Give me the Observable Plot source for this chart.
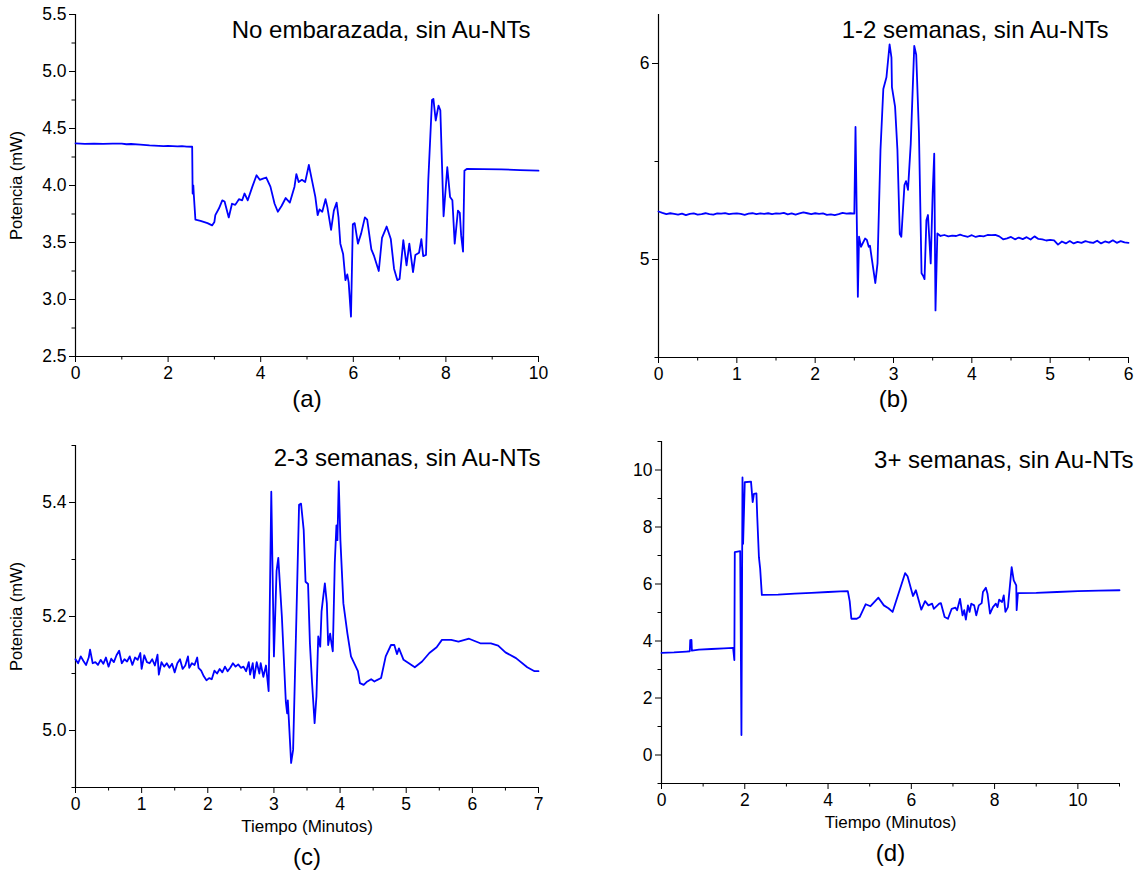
<!DOCTYPE html>
<html><head><meta charset="utf-8">
<script src="https://cdn.jsdelivr.net/npm/d3@7"></script>
<script src="https://cdn.jsdelivr.net/npm/@observablehq/plot@0.6"></script>
<style>
body{margin:0;background:#fff;}
#wrap{position:relative;width:1138px;height:872px;}
#wrap svg{position:absolute;}
</style></head><body><div id="wrap"></div>
<script>
// ---------- data: [tiempo (min), potencia (mW)] ----------
const serieA = [[0,4.37],[0.2,4.365],[0.4,4.368],[0.6,4.366],[0.8,4.368],[1.0,4.367],[1.1,4.362],[1.2,4.364],[1.4,4.358],[1.6,4.352],[1.8,4.348],[1.9,4.345],[2.0,4.347],[2.2,4.343],[2.3,4.345],[2.4,4.341],[2.52,4.34],[2.53,3.93],[2.545,4.0],[2.555,3.92],[2.59,3.70],[2.7,3.69],[2.85,3.67],[2.95,3.65],[3.0,3.68],[3.02,3.74],[3.1,3.80],[3.17,3.87],[3.22,3.86],[3.31,3.72],[3.38,3.84],[3.45,3.83],[3.53,3.88],[3.6,3.87],[3.65,3.93],[3.72,3.87],[3.82,3.99],[3.91,4.09],[3.98,4.05],[4.05,4.06],[4.12,4.07],[4.21,3.99],[4.3,3.84],[4.37,3.77],[4.45,3.82],[4.54,3.89],[4.63,3.85],[4.73,3.99],[4.77,4.10],[4.82,4.03],[4.89,4.05],[4.96,4.03],[5.04,4.18],[5.11,4.04],[5.18,3.90],[5.23,3.74],[5.27,3.79],[5.33,3.77],[5.4,3.88],[5.44,3.81],[5.52,3.61],[5.58,3.78],[5.64,3.85],[5.68,3.72],[5.72,3.49],[5.78,3.40],[5.83,3.17],[5.87,3.22],[5.90,3.15],[5.95,2.85],[5.99,3.66],[6.03,3.67],[6.1,3.49],[6.17,3.58],[6.25,3.72],[6.30,3.70],[6.39,3.44],[6.45,3.38],[6.55,3.25],[6.62,3.54],[6.72,3.64],[6.81,3.53],[6.88,3.27],[6.95,3.17],[7.0,3.18],[7.08,3.52],[7.15,3.30],[7.21,3.49],[7.29,3.24],[7.34,3.39],[7.42,3.41],[7.47,3.53],[7.51,3.38],[7.57,3.39],[7.62,4.05],[7.70,4.75],[7.73,4.76],[7.78,4.57],[7.84,4.70],[7.88,4.66],[7.95,3.73],[8.03,4.16],[8.09,3.90],[8.14,3.87],[8.19,3.49],[8.26,3.78],[8.30,3.76],[8.33,3.56],[8.37,3.42],[8.40,4.13],[8.45,4.145],[8.8,4.143],[9.2,4.142],[9.6,4.135],[10.0,4.13]];

const serieB = [[0,5.245],[0.05,5.238],[0.1,5.232],[0.15,5.236],[0.2,5.233],[0.25,5.229],[0.3,5.234],[0.35,5.226],[0.4,5.233],[0.45,5.235],[0.5,5.229],[0.55,5.232],[0.6,5.236],[0.65,5.231],[0.7,5.229],[0.75,5.235],[0.8,5.234],[0.85,5.237],[0.9,5.231],[0.95,5.234],[1.0,5.235],[1.05,5.233],[1.1,5.228],[1.15,5.234],[1.2,5.236],[1.25,5.231],[1.3,5.235],[1.35,5.233],[1.4,5.236],[1.45,5.232],[1.5,5.235],[1.55,5.234],[1.6,5.238],[1.65,5.230],[1.7,5.235],[1.75,5.229],[1.8,5.235],[1.85,5.240],[1.9,5.236],[1.95,5.232],[2.0,5.236],[2.05,5.233],[2.1,5.235],[2.15,5.228],[2.2,5.230],[2.25,5.226],[2.3,5.231],[2.35,5.238],[2.4,5.234],[2.45,5.236],[2.50,5.234],[2.515,5.676],[2.545,4.81],[2.56,5.116],[2.585,5.065],[2.637,5.107],[2.66,5.10],[2.684,5.065],[2.70,5.07],[2.71,5.04],[2.768,4.88],[2.796,4.98],[2.834,5.56],[2.87,5.87],[2.91,5.93],[2.95,6.097],[2.974,6.03],[2.98,5.88],[3.02,5.78],[3.05,5.56],[3.08,5.13],[3.10,5.116],[3.14,5.38],[3.16,5.40],[3.185,5.355],[3.22,5.59],[3.265,6.09],[3.29,6.045],[3.325,5.645],[3.358,4.93],[3.38,4.915],[3.396,4.90],[3.42,5.20],[3.44,5.227],[3.475,4.98],[3.50,5.338],[3.52,5.54],[3.536,4.74],[3.56,5.133],[3.6,5.12],[3.65,5.125],[3.7,5.118],[3.75,5.122],[3.8,5.12],[3.85,5.127],[3.9,5.12],[3.95,5.116],[4.0,5.124],[4.05,5.115],[4.1,5.121],[4.15,5.118],[4.2,5.125],[4.25,5.124],[4.3,5.126],[4.35,5.118],[4.4,5.103],[4.45,5.108],[4.5,5.115],[4.55,5.103],[4.6,5.112],[4.65,5.104],[4.7,5.114],[4.75,5.102],[4.8,5.118],[4.85,5.105],[4.9,5.103],[4.95,5.097],[5.0,5.10],[5.05,5.098],[5.1,5.076],[5.15,5.092],[5.2,5.082],[5.25,5.094],[5.3,5.082],[5.35,5.09],[5.4,5.085],[5.45,5.094],[5.5,5.088],[5.55,5.085],[5.6,5.096],[5.65,5.082],[5.7,5.092],[5.75,5.086],[5.8,5.098],[5.85,5.085],[5.9,5.094],[5.95,5.087],[6.0,5.085]];

const serieC = [[0.00,5.125],[0.04,5.118],[0.08,5.130],[0.12,5.122],[0.16,5.115],[0.20,5.128],[0.22,5.142],[0.26,5.118],[0.30,5.120],[0.34,5.115],[0.38,5.124],[0.42,5.117],[0.46,5.128],[0.50,5.112],[0.54,5.126],[0.58,5.120],[0.62,5.132],[0.66,5.140],[0.70,5.118],[0.74,5.125],[0.78,5.121],[0.82,5.130],[0.86,5.115],[0.90,5.128],[0.94,5.124],[0.98,5.136],[1.00,5.108],[1.04,5.132],[1.08,5.120],[1.12,5.118],[1.16,5.125],[1.20,5.114],[1.24,5.133],[1.26,5.098],[1.30,5.120],[1.34,5.112],[1.38,5.118],[1.42,5.110],[1.46,5.117],[1.50,5.102],[1.54,5.118],[1.58,5.125],[1.62,5.108],[1.66,5.114],[1.70,5.130],[1.72,5.110],[1.76,5.118],[1.80,5.115],[1.84,5.128],[1.86,5.110],[1.90,5.105],[1.94,5.095],[1.98,5.088],[2.02,5.092],[2.06,5.090],[2.10,5.105],[2.14,5.100],[2.18,5.108],[2.22,5.102],[2.26,5.112],[2.30,5.104],[2.34,5.110],[2.38,5.118],[2.42,5.112],[2.46,5.116],[2.50,5.110],[2.54,5.112],[2.58,5.104],[2.62,5.120],[2.64,5.098],[2.68,5.118],[2.70,5.092],[2.74,5.120],[2.78,5.100],[2.80,5.118],[2.84,5.094],[2.88,5.114],[2.92,5.069],[2.96,5.419],[3.0,5.13],[3.04,5.28],[3.066,5.303],[3.12,5.2],[3.18,5.05],[3.20,5.03],[3.21,5.053],[3.26,4.943],[3.29,4.966],[3.34,5.2],[3.38,5.396],[3.41,5.398],[3.45,5.352],[3.478,5.261],[3.516,5.257],[3.544,5.153],[3.577,5.083],[3.615,5.013],[3.643,5.06],[3.67,5.165],[3.70,5.147],[3.72,5.209],[3.74,5.229],[3.77,5.258],[3.80,5.223],[3.82,5.15],[3.85,5.17],[3.87,5.153],[3.89,5.139],[3.92,5.294],[3.945,5.36],[3.96,5.334],[3.98,5.437],[4.005,5.334],[4.05,5.223],[4.11,5.171],[4.165,5.13],[4.27,5.104],[4.30,5.083],[4.357,5.08],[4.40,5.085],[4.47,5.09],[4.52,5.086],[4.55,5.088],[4.62,5.092],[4.69,5.13],[4.77,5.15],[4.82,5.15],[4.86,5.134],[4.89,5.144],[4.96,5.124],[5.04,5.118],[5.13,5.111],[5.24,5.121],[5.35,5.136],[5.46,5.146],[5.54,5.159],[5.68,5.159],[5.79,5.156],[5.95,5.161],[6.12,5.153],[6.28,5.153],[6.39,5.149],[6.50,5.137],[6.66,5.127],[6.83,5.111],[6.94,5.104],[7.0,5.104]];

const serieD = [[0,3.58],[0.3,3.6],[0.6,3.63],[0.68,3.64],[0.69,4.03],[0.72,4.04],[0.73,3.66],[0.9,3.7],[1.2,3.72],[1.5,3.74],[1.72,3.76],[1.75,3.33],[1.76,7.12],[1.89,7.15],[1.92,0.7],[1.945,9.74],[1.96,7.41],[2.0,9.57],[2.15,9.59],[2.19,8.87],[2.22,9.16],[2.28,9.18],[2.30,8.34],[2.34,6.94],[2.37,6.53],[2.41,5.62],[2.8,5.63],[3.2,5.66],[3.6,5.69],[4.0,5.72],[4.3,5.74],[4.475,5.75],[4.52,5.4],[4.56,4.78],[4.69,4.78],[4.76,4.84],[4.905,5.29],[5.02,5.22],[5.21,5.52],[5.34,5.25],[5.45,5.15],[5.55,5.02],[5.85,6.38],[5.91,6.27],[6.04,5.58],[6.11,5.78],[6.24,5.1],[6.33,5.4],[6.41,5.25],[6.5,5.31],[6.54,5.13],[6.67,5.31],[6.71,5.33],[6.80,4.84],[6.88,4.78],[6.97,5.13],[7.06,5.17],[7.10,5.08],[7.17,5.48],[7.23,4.9],[7.27,5.08],[7.31,4.75],[7.36,5.25],[7.40,5.02],[7.44,5.31],[7.51,5.25],[7.56,4.9],[7.62,5.25],[7.69,5.33],[7.72,5.72],[7.79,5.87],[7.83,5.66],[7.89,4.96],[7.96,5.19],[8.03,5.31],[8.07,5.19],[8.11,5.45],[8.18,5.37],[8.22,5.6],[8.26,5.02],[8.32,5.19],[8.41,6.59],[8.46,6.13],[8.52,5.95],[8.53,5.08],[8.56,5.68],[9.0,5.69],[9.5,5.72],[10.0,5.75],[10.5,5.77],[11.0,5.78]];

// ---------- ticks & labels ----------
const xTicksA = [0,2,4,6,8,10], xMinorA = [1,3,5,7,9];
const yTicksA = [2.5,3.0,3.5,4.0,4.5,5.0,5.5], yMinorA = [2.75,3.25,3.75,4.25,4.75,5.25];
const xTicksB = [0,1,2,3,4,5,6], xMinorB = [0.5,1.5,2.5,3.5,4.5,5.5];
const yTicksB = [5,6], yMinorB = [4.5,5.5];
const xTicksC = [0,1,2,3,4,5,6,7], xMinorC = [0.5,1.5,2.5,3.5,4.5,5.5,6.5];
const yTicksC = [5.0,5.2,5.4], yMinorC = [4.9,5.1,5.3,5.5];
const xTicksD = [0,2,4,6,8,10], xMinorD = [1,3,5,7,9,11];
const yTicksD = [0,2,4,6,8,10], yMinorD = [-1,1,3,5,7,9,11];
const titles = ["No embarazada, sin Au-NTs","1-2 semanas, sin Au-NTs","2-3 semanas, sin Au-NTs","3+ semanas, sin Au-NTs"];
const letters = ["(a)","(b)","(c)","(d)"];
const yLabel = "Potencia (mW)", xLabel = "Tiempo (Minutos)";

const FONT = "'Liberation Sans', Arial, Helvetica, sans-serif";

function panel(c){
  const marks = [
    Plot.axisX({ticks:c.xMinor, tickSize:3.5, tickFormat:()=>"", label:null}),
    Plot.axisY({ticks:c.yMinor, tickSize:3.5, tickFormat:()=>"", label:null}),
    Plot.axisX({ticks:c.xTicks, tickSize:6, tickPadding:4, tickFormat:c.xFmt, label:null, fontSize:17.5}),
    Plot.axisY({ticks:c.yTicks, tickSize:6, tickPadding:3, tickFormat:c.yFmt, label:null, fontSize:17.5}),
    Plot.ruleY([c.yd[0]], {stroke:"#000", strokeWidth:1.2}),
    Plot.ruleX([c.xd[0]], {stroke:"#000", strokeWidth:1.2}),
    Plot.line(c.data, {x:d=>d[0], y:d=>d[1], stroke:"#0000ff", strokeWidth:1.8}),
    Plot.text([c.title], {text:d=>d, frameAnchor:"top-right", dx:c.tdx, dy:c.tdy, lineAnchor:"middle", textAnchor:"end", fontSize:24, fill:"#000"}),
    Plot.text([c.letter], {text:d=>d, frameAnchor:"bottom", dy:c.ldy, lineAnchor:"middle", textAnchor:"middle", fontSize:24, fill:"#000"})
  ];
  if (c.showX) marks.push(Plot.text([xLabel], {text:d=>d, frameAnchor:"bottom", dy:39, lineAnchor:"middle", textAnchor:"middle", fontSize:17, fill:"#000"}));
  if (c.showY) marks.push(Plot.text([yLabel], {text:d=>d, frameAnchor:"left", dx:-59, rotate:-90, lineAnchor:"middle", textAnchor:"middle", fontSize:16.5, fill:"#000"}));
  const svg = Plot.plot({
    width:c.w, height:c.h,
    marginLeft:c.m[0], marginRight:c.m[1], marginTop:c.m[2], marginBottom:c.m[3],
    style:{fontFamily:FONT, fontSize:"17px", color:"#000", background:"transparent", overflow:"visible"},
    x:{domain:c.xd},
    y:{domain:c.yd},
    marks
  });
  svg.style.left = c.left + "px";
  svg.style.top = c.top + "px";
  document.getElementById("wrap").appendChild(svg);
}

const f1 = d3.format(".1f"), f0 = d3.format("d");
panel({data:serieA, left:0, top:0, w:570, h:430, m:[75,32,14,74], xd:[0,10], yd:[2.5,5.5],
  xTicks:xTicksA, xMinor:xMinorA, yTicks:yTicksA, yMinor:yMinorA, xFmt:f0, yFmt:f1,
  title:titles[0], tdx:-8, tdy:16, letter:letters[0], ldy:43, showX:false, showY:true});
panel({data:serieB, left:570, top:0, w:568, h:430, m:[88,10,14,73], xd:[0,6], yd:[4.5,6.25],
  xTicks:xTicksB, xMinor:xMinorB, yTicks:yTicksB, yMinor:yMinorB, xFmt:f0, yFmt:f0,
  title:titles[1], tdx:-20, tdy:16, letter:letters[1], ldy:42, showX:false, showY:false});
panel({data:serieC, left:0, top:430, w:570, h:442, m:[75,32,15,85], xd:[0,7], yd:[4.9,5.5],
  xTicks:xTicksC, xMinor:xMinorC, yTicks:yTicksC, yMinor:yMinorC, xFmt:f0, yFmt:f1,
  title:titles[2], tdx:2, tdy:13, letter:letters[2], ldy:70, showX:true, showY:true});
panel({data:serieD, left:570, top:430, w:568, h:442, m:[91,19,11,89], xd:[0,11], yd:[-1,11],
  xTicks:xTicksD, xMinor:xMinorD, yTicks:yTicksD, yMinor:yMinorD, xFmt:f0, yFmt:f0,
  title:titles[3], tdx:14, tdy:19, letter:letters[3], ldy:70, showX:true, showY:false});
</script></body></html>
